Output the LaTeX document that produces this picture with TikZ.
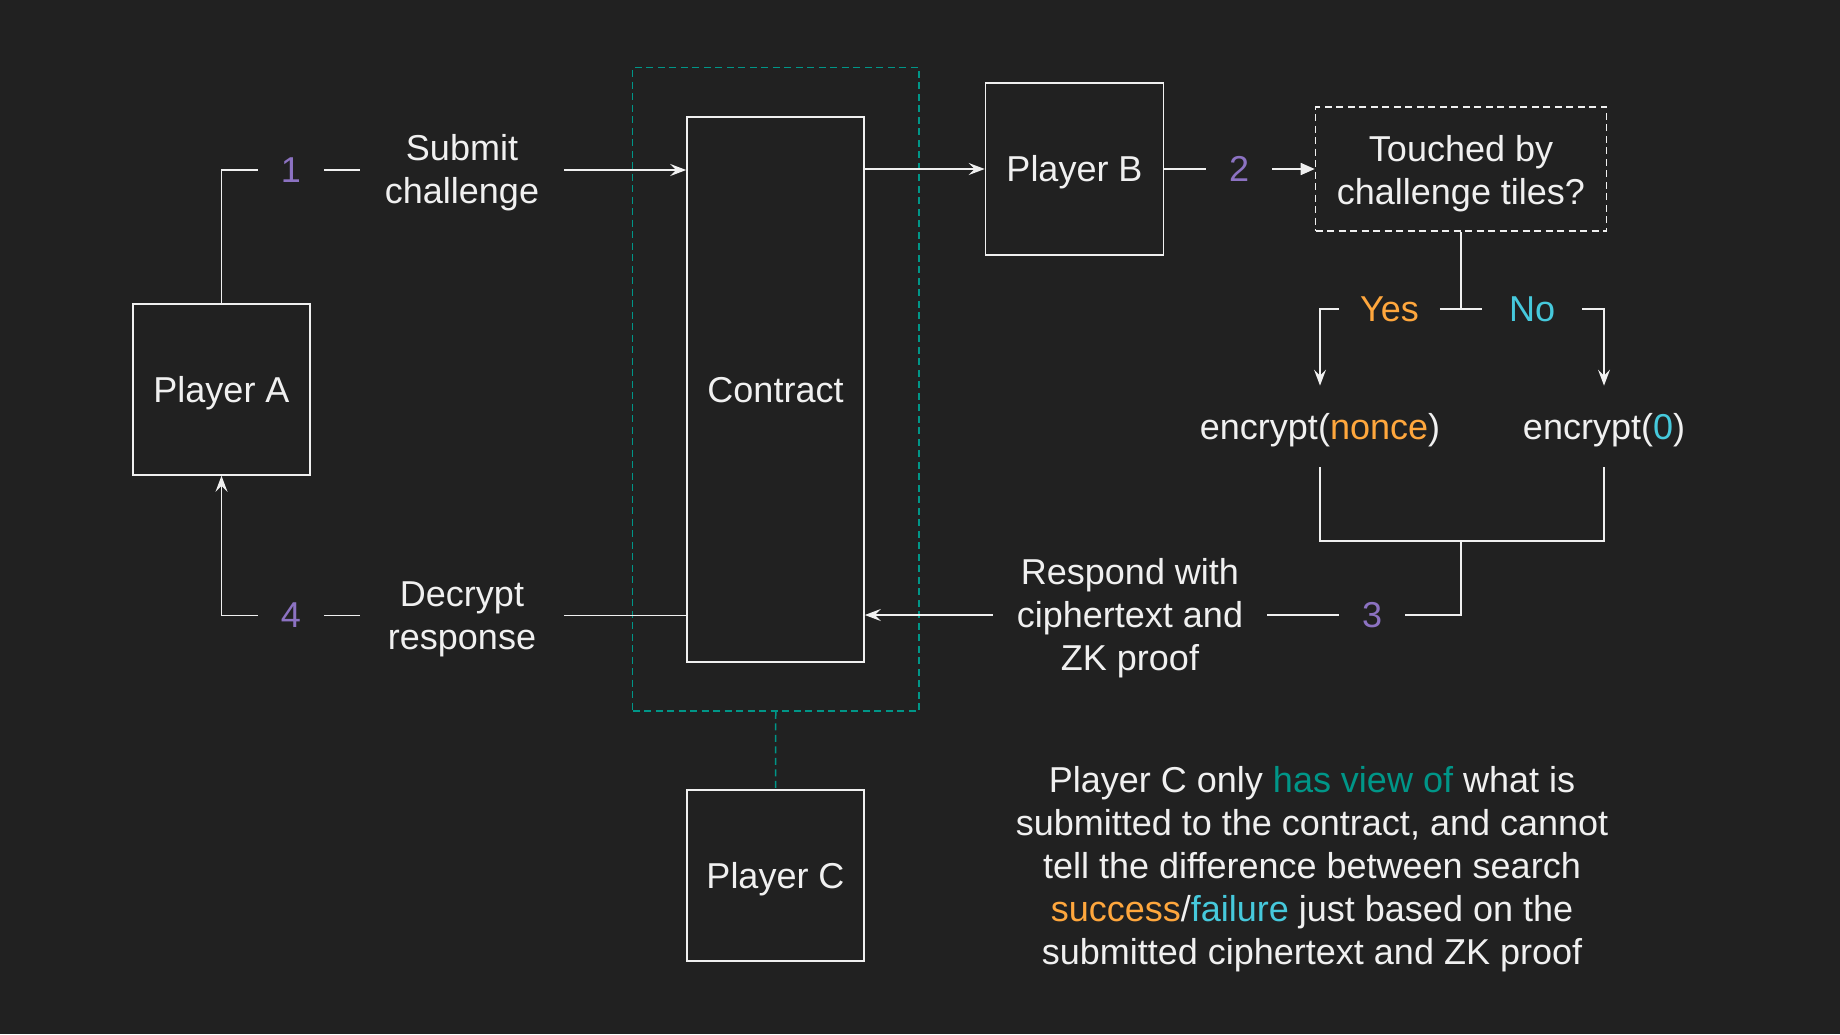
\documentclass[tikz,border=0pt]{standalone}
\usepackage{fontspec}
\setmainfont{Liberation Sans}
\usetikzlibrary{arrows.meta}
\definecolor{bg}{HTML}{212121}
\definecolor{fg}{HTML}{F0F0F0}
\definecolor{numcol}{HTML}{8C72C2}
\definecolor{yescol}{HTML}{FFA73D}
\definecolor{nocol}{HTML}{46C9DC}
\definecolor{viewcol}{HTML}{009688}

\begin{document}
\begin{tikzpicture}[x=0.5pt, y=-0.5pt,
    every node/.style={text=fg, font=\fontsize{18}{21.5}\selectfont},
    oneline/.style={text height=12.9pt, text depth=0pt},
    box/.style={oneline, draw=fg, line width=0.8pt, minimum width=88.5pt, minimum height=85.5pt, inner sep=0pt},
    lbl/.style={align=center, inner sep=0pt},
    num/.style={text=numcol, inner sep=0pt, minimum width=33pt},
    wire/.style={draw=fg, line width=0.8pt},
    arr/.style={wire, -{Stealth[length=8pt, width=6pt, inset=3pt]}},
    viewline/.style={draw=viewcol, line width=0.75pt, dash pattern=on 3.5pt off 2.25pt}]
          \useasboundingbox (0,0) rectangle (1840,1034);
          \fill[bg] (0,0) rectangle (1840,1034);
          % boxes
          \node[box] (pa) at (221.5,389.5) {Player A};
          \node[box, minimum height=272.5pt] (contract) at (775.5,389.5) {Contract};
          \node[box, minimum width=89pt, minimum height=86pt] (pb) at (1074.5,169) {Player B};
          \node[box] (pc) at (775.5,875.5) {Player C};
          \node[draw=fg, line width=0.8pt, dash pattern=on 3.5pt off 2.25pt,
                minimum width=145.5pt, minimum height=62pt] (touched) at (1461,169) {};
          \node[lbl] (touchedtxt) at (1461,174) {Touched by\\challenge tiles?};
          \node[viewline, minimum width=143.25pt, minimum height=321.75pt] (view) at (775.75,389.25) {};
          %
          \node[num] (n1) at (291,170) {1};
          \node[lbl, minimum width=102pt] (submit) at (462,173) {Submit\\challenge};
          \node[num] (n2) at (1239,169) {2};
          \node[lbl, text=yescol, minimum width=50pt] (yes) at (1389.5,309) {Yes};
          \node[lbl, text=nocol, minimum width=50pt] (no) at (1532,309) {No};
          \node[oneline, inner sep=0pt, minimum height=40.5pt] (enc1) at (1320,426.5) {encrypt(\textcolor{yescol}{nonce})};
          \node[oneline, inner sep=0pt, minimum height=40.5pt] (enc0) at (1604,426.5) {encrypt(\textcolor{nocol}{0})};
          \coordinate (merge) at (1461,541);
          \node[num] (n3) at (1372,615) {3};
          \node[lbl, minimum width=137pt] (respond) at (1130,618) {Respond with\\ciphertext and\\ZK proof};
          \node[num] (n4) at (291,615.5) {4};
          \node[lbl, minimum width=102pt] (decrypt) at (462,619.5) {Decrypt\\response};
          \node[align=center] (note) at (1312,869) {Player C only \textcolor{viewcol}{has view of} what is\\
            submitted to the contract, and cannot\\tell the difference between search\\
            \textcolor{yescol}{success}/\textcolor{nocol}{failure} just based on the\\submitted ciphertext and ZK proof};
          % connectors
          \draw[wire] (pa.north) |- (n1.west);
          \draw[wire] (n1.east) -- (submit.west |- n1.east);
          \draw[arr] (submit.east |- n1.east) -- (n1.east -| contract.west);
          \draw[arr] (contract.east |- pb.west) -- (pb.west);
          \draw[wire] (pb.east) -- (n2.west);
          \draw[wire, -{Triangle[length=7pt, width=6pt]}] (n2.east) -- (touched.west);
          \draw[wire] (touched.south) -- (touched.south |- yes.east);
          \draw[wire] (yes.east) -- (no.west);
          \draw[arr] (yes.west) -| (enc1.north);
          \draw[arr] (no.east) -| (enc0.north);
          \draw[wire] (enc1.south) |- (merge) -| (enc0.south);
          \draw[wire] (merge) |- (n3.east);
          \draw[wire] (n3.west) -- (respond.east |- n3.west);
          \draw[arr] (respond.west |- n3.west) -- (n3.west -| contract.east);
          \draw[wire] (contract.west |- n4.east) -- (decrypt.east |- n4.east);
          \draw[wire] (decrypt.west |- n4.east) -- (n4.east);
          \draw[arr] (n4.west) -| (pa.south);
          \draw[viewline] (view.south) -- (pc.north);
        \end{tikzpicture}
\end{document}
